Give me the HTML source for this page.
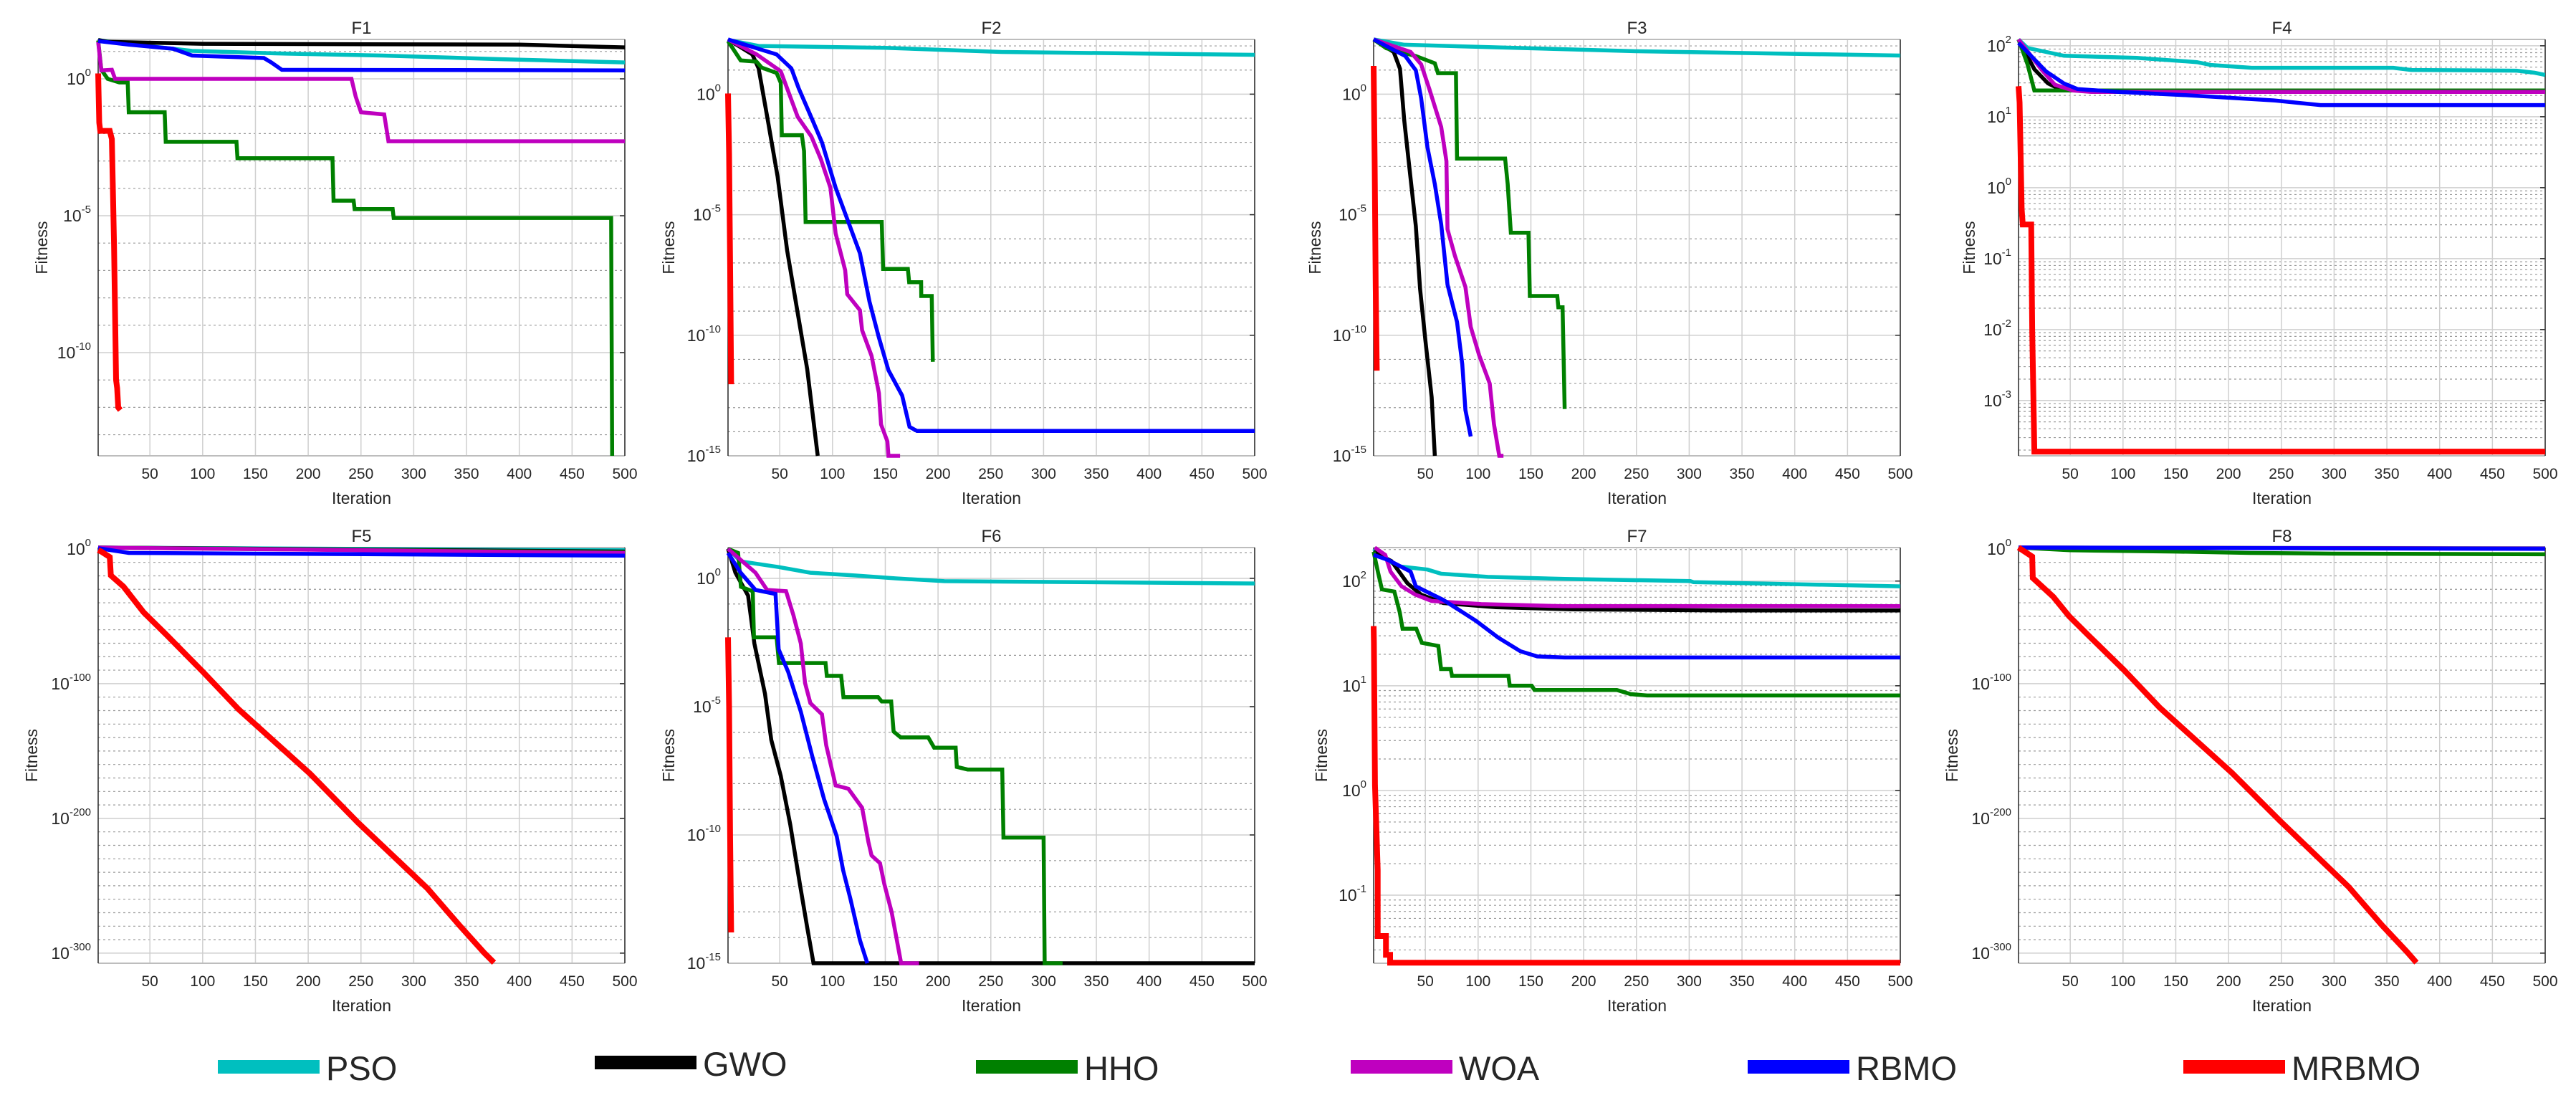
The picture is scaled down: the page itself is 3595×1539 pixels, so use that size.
<!DOCTYPE html>
<html><head><meta charset="utf-8"><title>Convergence curves F1-F8</title>
<style>html,body{margin:0;padding:0;background:#fff}svg{display:block}text{font-family:"Liberation Sans",Arial,sans-serif;fill:#262626}</style>
</head><body>
<svg id="chart" xmlns="http://www.w3.org/2000/svg" width="3595" height="1539" viewBox="0 0 3595 1539"></svg>
<script>
// ---- data: iteration breakpoints and log10(fitness) values ----
const F1_PSO_IT=[1,20,60,90,180,270,380,450,500], F1_PSO_LOG=[1.42,1.3,1.15,1.02,0.92,0.85,0.72,0.65,0.6];
const F1_GWO_IT=[1,10,100,400,450,500], F1_GWO_LOG=[1.42,1.35,1.28,1.25,1.2,1.15];
const F1_HHO_IT=[1,4,10,21,29,30,64,65,132,133,223,224,243,244,280,281,487,488], F1_HHO_LOG=[1.4,0.33,0,-0.13,-0.13,-1.22,-1.22,-2.3,-2.3,-2.9,-2.9,-4.45,-4.45,-4.76,-4.76,-5.08,-5.08,-13.77];
const F1_WOA_IT=[1,4,14,17,241,245,250,272,276,500], F1_WOA_LOG=[1.35,0.31,0.33,0,0,-0.65,-1.22,-1.3,-2.28,-2.28];
const F1_RBMO_IT=[1,30,72,90,158,165,175,500], F1_RBMO_LOG=[1.38,1.25,1.1,0.85,0.76,0.6,0.33,0.31];
const F1_MRBMO_IT=[1,2,3,12,14,16,18,19,20,22], F1_MRBMO_LOG=[0.2,-1.6,-1.9,-1.9,-2.2,-6,-11,-11.3,-12,-12.1];

const F2_PSO_IT=[1,30,150,260,500], F2_PSO_LOG=[2.25,2.0,1.92,1.75,1.63];
const F2_GWO_IT=[1,24,30,39,48,57,67,76,86], F2_GWO_LOG=[2.27,1.65,1.07,-1.16,-3.42,-6.48,-9.07,-11.4,-15];
const F2_HHO_IT=[1,13,28,33,47,51,52,71,73,74.5,146.6,148,171.4,172.6,184,184.1,194,195], F2_HHO_LOG=[2.2,1.4,1.35,1.1,0.88,0.47,-1.7,-1.7,-2.36,-5.3,-5.3,-7.25,-7.25,-7.8,-7.8,-8.37,-8.37,-11.1];
const F2_WOA_IT=[1,28,51,57,67,80,89,98,103,112,114,126,128,137,144,146,152,153,164], F2_WOA_LOG=[2.27,1.65,0.95,0.24,-0.94,-1.76,-2.7,-3.88,-5.78,-7.3,-8.3,-8.96,-9.79,-10.85,-12.4,-13.7,-14.4,-15,-15];
const F2_RBMO_IT=[1,47,61,68,81,90,103,115,126,135,144,153,166,173,180,500], F2_RBMO_LOG=[2.27,1.65,1.07,0.24,-1.07,-2.0,-3.88,-5.3,-6.6,-8.6,-10.1,-11.45,-12.5,-13.8,-13.97,-13.97];
const F2_MRBMO_IT=[1,2,3,4], F2_MRBMO_LOG=[0.03,-2.5,-7,-12.03];

const F3_PSO_IT=[1,30,150,250,500], F3_PSO_LOG=[2.27,2.05,1.9,1.78,1.6];
const F3_GWO_IT=[1,20,26,30,35,41,45,50,56,59], F3_GWO_LOG=[2.27,1.75,1.05,-1.08,-3.1,-5.47,-8.07,-10.2,-12.57,-15];
const F3_HHO_IT=[1,13,41,59,62,79,80,125.6,128,131,147.7,149,175,176,180,182], F3_HHO_LOG=[2.27,1.9,1.58,1.28,0.87,0.87,-2.67,-2.67,-3.73,-5.75,-5.75,-8.37,-8.37,-8.84,-8.84,-13.06];
const F3_WOA_IT=[1,36,46,54,65,70,71,78,88,93,101,111,115,120,124], F3_WOA_LOG=[2.27,1.75,1.24,0.18,-1.36,-2.78,-5.6,-6.7,-8.0,-9.65,-10.83,-12.0,-13.68,-15,-15];
const F3_RBMO_IT=[1,31,41,46,52,59,65,71,80,85,88,93], F3_RBMO_LOG=[2.27,1.58,0.99,-0.16,-2.2,-3.73,-5.4,-7.9,-9.45,-11.2,-13.1,-14.2];
const F3_MRBMO_IT=[1,2,3,4], F3_MRBMO_LOG=[1.17,-3,-8,-11.47];

const F4_PSO_IT=[1,9.5,44,113,170,183,222,356,373,473,490,500], F4_PSO_LOG=[2.09,1.97,1.86,1.83,1.77,1.73,1.69,1.69,1.66,1.65,1.62,1.59];
const F4_GWO_IT=[1,16,29,40,60,500], F4_GWO_LOG=[2.09,1.67,1.47,1.39,1.37,1.37];
const F4_HHO_IT=[1,9.5,16,500], F4_HHO_LOG=[2.09,1.74,1.37,1.37];
const F4_WOA_IT=[1,22.5,35.5,52.6,70,500], F4_WOA_LOG=[2.09,1.67,1.45,1.37,1.35,1.35];
const F4_RBMO_IT=[1,27,44,57,96,165,243,287,500], F4_RBMO_LOG=[2.04,1.64,1.47,1.39,1.35,1.3,1.23,1.165,1.165];
const F4_MRBMO_IT=[1,2,4,5,13,14,16,500], F4_MRBMO_LOG=[1.43,1.2,-0.3,-0.52,-0.52,-2.0,-3.72,-3.72];

const F5_PSO_IT=[1,500], F5_PSO_LOG=[1,-1];
const F5_GWO_IT=[1,500], F5_GWO_LOG=[1,-2];
const F5_HHO_IT=[1,500], F5_HHO_LOG=[1,-2.5];
const F5_WOA_IT=[1,500], F5_WOA_LOG=[1,-3];
const F5_RBMO_IT=[1,30,500], F5_RBMO_LOG=[0.5,-3,-5];
const F5_MRBMO_IT=[1,4,12,13,25,44,66,100,134,202,247,313,344,367,376], F5_MRBMO_LOG=[-0.9,-2,-6,-19.7,-28,-47,-64,-91,-119,-167,-203,-252,-280,-300,-307];

const F6_PSO_IT=[1,13,49,79,122,160,206,500], F6_PSO_LOG=[1.15,0.66,0.44,0.22,0.11,0,-0.11,-0.2];
const F6_GWO_IT=[1,8,20,26,36,42,51,60,69,76,82,500], F6_GWO_LOG=[1.15,0.22,-0.67,-2.54,-4.5,-6.3,-7.7,-9.6,-11.9,-13.6,-15,-15];
const F6_HHO_IT=[1,10.6,13.2,24.4,25.6,47,49.3,93.4,94.6,108.2,110.4,143.2,146.6,155.6,157.9,164.6,190.7,196.3,216.7,217.8,228,260.8,262,300,301,318], F6_HHO_LOG=[1.15,0.99,-0.33,-0.5,-2.3,-2.3,-3.3,-3.3,-3.8,-3.8,-4.63,-4.63,-4.8,-4.8,-5.97,-6.2,-6.2,-6.6,-6.6,-7.35,-7.45,-7.45,-10.1,-10.1,-15,-15];
const F6_WOA_IT=[1,27,38,56,63,70,74,79,90,94,103,115,128,134,137,145,149,156,165,182], F6_WOA_LOG=[1.15,0.22,-0.45,-0.5,-1.44,-2.54,-4.08,-4.86,-5.3,-6.5,-8.07,-8.2,-8.94,-10.27,-10.8,-11.1,-11.9,-13,-15,-15];
const F6_RBMO_IT=[1,13,27,46,49,58,70,81,92,104,110,117,126,133], F6_RBMO_LOG=[0.99,0.22,-0.45,-0.61,-2.77,-3.65,-5.2,-6.96,-8.6,-10.05,-11.37,-12.5,-14.1,-15];
const F6_MRBMO_IT=[1,2,3,4], F6_MRBMO_LOG=[-2.3,-5,-10,-13.8];

const F7_PSO_IT=[1,15,26,52,65,109,182,301,304,500], F7_PSO_LOG=[2.31,2.19,2.14,2.11,2.07,2.04,2.02,2.0,1.99,1.95];
const F7_GWO_IT=[1,18,33,46,67,117,190,330,500], F7_GWO_LOG=[2.28,2.19,1.98,1.87,1.79,1.75,1.73,1.72,1.72];
const F7_HHO_IT=[1,5,8.9,20.6,25.8,28.4,41.4,46.7,62.3,64.9,74,75.3,128.7,130,150.8,153.4,231.5,244.5,260,500], F7_HHO_LOG=[2.28,2.09,1.92,1.9,1.7,1.545,1.545,1.41,1.38,1.16,1.16,1.095,1.095,1.0,1.0,0.96,0.96,0.92,0.907,0.907];
const F7_WOA_IT=[2,12,17,27.5,40.5,56,103,181,500], F7_WOA_LOG=[2.32,2.25,2.09,1.95,1.87,1.81,1.78,1.76,1.76];
const F7_RBMO_IT=[1,15,36,41,67,98,119,140,156,182,500], F7_RBMO_LOG=[2.25,2.2,2.09,1.95,1.82,1.62,1.46,1.33,1.28,1.27,1.27];
const F7_MRBMO_IT=[1,1.3,2.3,4.9,4.9,12.7,12.7,16.6,16.6,500], F7_MRBMO_LOG=[1.57,1.41,0.05,-0.76,-1.39,-1.39,-1.57,-1.57,-1.645,-1.645];

const F8_PSO_IT=[1,500], F8_PSO_LOG=[1,0.5];
const F8_GWO_IT=[1,500], F8_GWO_LOG=[1,0.2];
const F8_HHO_IT=[1,50,150,220,300,500], F8_HHO_LOG=[1,-1,-2,-3,-3.5,-4];
const F8_WOA_IT=[1,500], F8_WOA_LOG=[1,0.3];
const F8_RBMO_IT=[1,500], F8_RBMO_LOG=[1,0];
const F8_MRBMO_IT=[1,14,14.5,34,49,67,101,135,203,249,314,345,369,378], F8_MRBMO_LOG=[1,-5.7,-21.6,-35.6,-50,-64,-90,-118,-166,-202,-251,-279,-299,-307];

const ALGOS=['PSO','GWO','HHO','WOA','RBMO','MRBMO'];
const X_TICKS=[50,100,150,200,250,300,350,400,450,500];

// ---- layout (not data) ----
const COLORS={PSO:'#00bfbf',GWO:'#000000',HHO:'#008000',WOA:'#bf00bf',RBMO:'#0000ff',MRBMO:'#ff0000'};
const PANELS=[
 {id:'F1',l:137,t:55,w:735,h:581,ymin:-13.77,ymax:1.44,ticks:[0,-5,-10],minor:'dec',fo:-79},
 {id:'F2',l:1016,t:55,w:735,h:581,ymin:-15,ymax:2.27,ticks:[0,-5,-10,-15],minor:'dec',fo:-83},
 {id:'F3',l:1917,t:55,w:735,h:581,ymin:-15,ymax:2.27,ticks:[0,-5,-10,-15],minor:'dec',fo:-82},
 {id:'F4',l:2817,t:55,w:735,h:581,ymin:-3.78,ymax:2.09,ticks:[2,1,0,-1,-2,-3],minor:'log',fo:-69},
 {id:'F5',l:137,t:764,w:735,h:580,ymin:-307.5,ymax:1,ticks:[0,-100,-200,-300],minor:10,fo:-93},
 {id:'F6',l:1016,t:764,w:735,h:580,ymin:-15,ymax:1.2,ticks:[0,-5,-10,-15],minor:'dec',fo:-83},
 {id:'F7',l:1917,t:764,w:735,h:580,ymin:-1.65,ymax:2.32,ticks:[2,1,0,-1],minor:'log',fo:-73},
 {id:'F8',l:2817,t:764,w:735,h:580,ymin:-307.5,ymax:1,ticks:[0,-100,-200,-300],minor:10,fo:-93}
];
const DATA={
 F1:{PSO:[F1_PSO_IT,F1_PSO_LOG],GWO:[F1_GWO_IT,F1_GWO_LOG],HHO:[F1_HHO_IT,F1_HHO_LOG],WOA:[F1_WOA_IT,F1_WOA_LOG],RBMO:[F1_RBMO_IT,F1_RBMO_LOG],MRBMO:[F1_MRBMO_IT,F1_MRBMO_LOG]},
 F2:{PSO:[F2_PSO_IT,F2_PSO_LOG],GWO:[F2_GWO_IT,F2_GWO_LOG],HHO:[F2_HHO_IT,F2_HHO_LOG],WOA:[F2_WOA_IT,F2_WOA_LOG],RBMO:[F2_RBMO_IT,F2_RBMO_LOG],MRBMO:[F2_MRBMO_IT,F2_MRBMO_LOG]},
 F3:{PSO:[F3_PSO_IT,F3_PSO_LOG],GWO:[F3_GWO_IT,F3_GWO_LOG],HHO:[F3_HHO_IT,F3_HHO_LOG],WOA:[F3_WOA_IT,F3_WOA_LOG],RBMO:[F3_RBMO_IT,F3_RBMO_LOG],MRBMO:[F3_MRBMO_IT,F3_MRBMO_LOG]},
 F4:{PSO:[F4_PSO_IT,F4_PSO_LOG],GWO:[F4_GWO_IT,F4_GWO_LOG],HHO:[F4_HHO_IT,F4_HHO_LOG],WOA:[F4_WOA_IT,F4_WOA_LOG],RBMO:[F4_RBMO_IT,F4_RBMO_LOG],MRBMO:[F4_MRBMO_IT,F4_MRBMO_LOG]},
 F5:{PSO:[F5_PSO_IT,F5_PSO_LOG],GWO:[F5_GWO_IT,F5_GWO_LOG],HHO:[F5_HHO_IT,F5_HHO_LOG],WOA:[F5_WOA_IT,F5_WOA_LOG],RBMO:[F5_RBMO_IT,F5_RBMO_LOG],MRBMO:[F5_MRBMO_IT,F5_MRBMO_LOG]},
 F6:{PSO:[F6_PSO_IT,F6_PSO_LOG],GWO:[F6_GWO_IT,F6_GWO_LOG],HHO:[F6_HHO_IT,F6_HHO_LOG],WOA:[F6_WOA_IT,F6_WOA_LOG],RBMO:[F6_RBMO_IT,F6_RBMO_LOG],MRBMO:[F6_MRBMO_IT,F6_MRBMO_LOG]},
 F7:{PSO:[F7_PSO_IT,F7_PSO_LOG],GWO:[F7_GWO_IT,F7_GWO_LOG],HHO:[F7_HHO_IT,F7_HHO_LOG],WOA:[F7_WOA_IT,F7_WOA_LOG],RBMO:[F7_RBMO_IT,F7_RBMO_LOG],MRBMO:[F7_MRBMO_IT,F7_MRBMO_LOG]},
 F8:{PSO:[F8_PSO_IT,F8_PSO_LOG],GWO:[F8_GWO_IT,F8_GWO_LOG],HHO:[F8_HHO_IT,F8_HHO_LOG],WOA:[F8_WOA_IT,F8_WOA_LOG],RBMO:[F8_RBMO_IT,F8_RBMO_LOG],MRBMO:[F8_MRBMO_IT,F8_MRBMO_LOG]}
};
const LEGEND_POS={PSO:[304,1479],GWO:[830,1473],HHO:[1362,1479],WOA:[1885,1479],RBMO:[2439,1479],MRBMO:[3047,1479]};

const NS='http://www.w3.org/2000/svg';
const svg=document.getElementById('chart');
function mk(tag,attrs,parent){const e=document.createElementNS(NS,tag);for(const k in attrs)e.setAttribute(k,attrs[k]);(parent||svg).appendChild(e);return e;}
function xs(p,it){return p.l+(it-1)/499*p.w;}
function ys(p,v){return p.t+(p.ymax-v)/(p.ymax-p.ymin)*p.h;}
const defs=mk('defs',{});

PANELS.forEach(p=>{
  const g=mk('g',{});
  
  
  const cp=mk('clipPath',{id:'clip-'+p.id},defs);
  mk('rect',{x:p.l-10,y:p.t-10,width:p.w+10,height:p.h+20},cp);
  const minors=[];
  if(p.minor==='dec'){for(let e=Math.ceil(p.ymin);e<=p.ymax;e++)if(!p.ticks.includes(e))minors.push(e);}
  else if(p.minor==='log'){for(let e=Math.floor(p.ymin);e<=p.ymax;e++)for(let m=2;m<=9;m++){const v=e+Math.log10(m);if(v>p.ymin&&v<p.ymax)minors.push(v);}}
  else {for(let e=0;e>=p.ymin;e-=p.minor)if(!p.ticks.includes(e))minors.push(e);}
  minors.forEach(v=>{const l=mk('line',{x1:p.l,x2:p.l+p.w,y1:ys(p,v),y2:ys(p,v),stroke:'#9a9a9a','stroke-width':1.2,'stroke-dasharray':'3,4'},g);
    });
  p.ticks.forEach(e=>{const y=ys(p,e);
    const l=mk('line',{x1:p.l,x2:p.l+p.w,y1:y,y2:y,stroke:'#cfcfcf','stroke-width':1.5},g);
    
    mk('line',{x1:p.l+p.w-7,x2:p.l+p.w,y1:y,y2:y,stroke:'#262626','stroke-width':1.5},g);
    const t=mk('text',{x:p.l-10,y:y+8,'text-anchor':'end','font-size':23},g);
    
    t.appendChild(document.createTextNode('10'));
    const s=mk('tspan',{'font-size':15,dy:-12},t);s.textContent=String(e);
  });
  X_TICKS.forEach(it=>{const x=xs(p,it);
    const l=mk('line',{x1:x,x2:x,y1:p.t,y2:p.t+p.h,stroke:'#cfcfcf','stroke-width':1.5},g);
    
    const t=mk('text',{x:x,y:p.t+p.h+32,'text-anchor':'middle','font-size':21},g);
    
    t.textContent=String(it);
  });
  mk('line',{x1:p.l,x2:p.l+p.w,y1:p.t,y2:p.t,stroke:'#bdbdbd','stroke-width':2},g);
  mk('line',{x1:p.l,x2:p.l+p.w,y1:p.t+p.h,y2:p.t+p.h,stroke:'#bdbdbd','stroke-width':2},g);
  mk('line',{x1:p.l,x2:p.l,y1:p.t,y2:p.t+p.h,stroke:'#262626','stroke-width':1.5},g);
  mk('line',{x1:p.l+p.w,x2:p.l+p.w,y1:p.t,y2:p.t+p.h,stroke:'#262626','stroke-width':1.5},g);
  ALGOS.forEach(a=>{const d=DATA[p.id][a];
    const pts=d[0].map((it,i)=>xs(p,it).toFixed(1)+','+ys(p,d[1][i]).toFixed(1)).join(' ');
    const pl=mk('polyline',{points:pts,fill:'none',stroke:COLORS[a],'stroke-width':a==='MRBMO'?8:5.5,'stroke-linejoin':'miter','stroke-linecap':'butt','clip-path':'url(#clip-'+p.id+')'},g);
    
    
  });
  const ti=mk('text',{x:p.l+p.w/2,y:p.t-8,'text-anchor':'middle','font-size':24,fill:'#000'},g);
  ti.textContent=p.id;
  const xl=mk('text',{x:p.l+p.w/2,y:p.t+p.h+67,'text-anchor':'middle','font-size':23},g);
  xl.textContent='Iteration';
  const cx=p.l+p.fo, cy=p.t+p.h/2;
  const yl=mk('text',{x:cx,y:cy,'text-anchor':'middle','dominant-baseline':'central','font-size':23,transform:'rotate(-90 '+cx+' '+cy+')'},g);
  yl.textContent='Fitness';
});

const lg=mk('g',{});


ALGOS.forEach(a=>{const [x,y]=LEGEND_POS[a];
  const r=mk('rect',{x:x,y:y,width:142,height:19,fill:COLORS[a]},lg);
  
  
  const t=mk('text',{x:x+151,y:y+28,'font-size':47,fill:'#000'},lg);
  
  
  t.textContent=a;
});
</script>
</body></html>
